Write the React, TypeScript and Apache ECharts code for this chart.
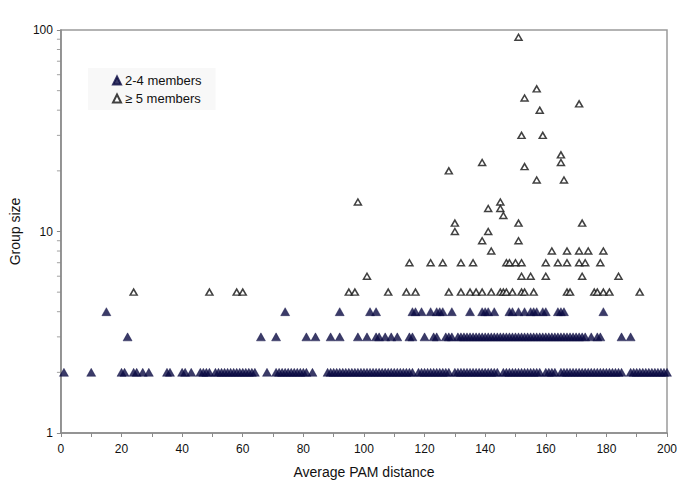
import React, { useEffect, useRef } from "react";
import * as echarts from "echarts";

// Filled triangles (2-4 members): x positions per group size row
const smallRow2: number[] = [
  1, 10, 20, 21, 24, 25, 27, 29, 35, 36, 40, 41, 43, 46, 47, 48, 49, 51, 52, 53, 54, 55, 56, 57, 58, 59, 60, 61, 62, 63, 64,
  68, 71, 72, 73, 74, 75, 76, 77, 78, 79, 80, 81, 83,
  88, 89, 90, 91, 92, 93, 94, 95, 96, 97, 98, 99, 100, 101, 102, 103, 104, 105, 106, 107, 108, 109, 110, 111, 112, 113, 114, 115, 116,
  118, 119, 120, 121, 122, 123, 124, 125, 126, 127, 128,
  130, 131, 132, 133, 134, 135, 136, 137, 138, 139, 140, 141, 142, 143, 144,
  146, 147, 148, 149, 150, 151, 152, 153, 154, 155, 156, 157, 158,
  160, 161, 162, 163, 165, 166, 167, 168, 169, 170, 171, 172, 173, 174, 175, 176, 177, 178, 179, 180, 181, 182, 183, 184, 185,
  188, 189, 190, 191, 192, 193, 194, 195, 196, 197, 198, 199, 200,
];
const smallRow3: number[] = [
  22, 66, 71, 81, 84, 89, 92, 98, 101, 104, 105, 107, 109, 111, 115, 116, 120, 123, 124, 127, 128, 129,
  131, 132, 133, 134, 135, 136, 137, 138, 139, 140, 141, 142, 143, 144, 145, 146, 147, 148, 149, 150,
  151, 152, 153, 154, 155, 156, 157, 158, 159, 160, 161, 162, 163, 164, 165, 166, 167, 168, 169, 170,
  171, 172, 173, 175, 177, 178, 185, 188,
];
const smallRow4: number[] = [
  15, 74, 92, 102, 104, 116, 117, 119, 122, 124, 125, 126, 129, 135, 139, 140, 141, 143,
  148, 149, 151, 153, 155, 156, 157, 159, 160, 164, 165, 166, 179,
];

// Hollow triangles (>= 5 members): [PAM distance, group size]
const largeX: number[] = [
  24, 49, 58, 60, 95, 97, 98, 101, 108, 114, 115, 117, 122, 126, 128, 128, 130, 130, 132, 132, 135, 136, 137,
  139, 139, 139, 141, 141, 142, 142, 145, 145, 145, 146, 146, 147, 147, 148, 149, 150, 151, 151, 151,
  152, 152, 152, 152, 153, 153, 153, 155, 156, 157, 157, 158, 159, 160, 160, 162, 164, 165, 165, 166,
  167, 167, 167, 168, 171, 171, 171, 172, 172, 173, 174, 176, 177, 178, 179, 179, 181, 184, 191,
];
const largeY: number[] = [
  5, 5, 5, 5, 5, 5, 14, 6, 5, 5, 7, 5, 7, 7, 5, 20, 11, 10, 5, 7, 5, 7, 5,
  5, 22, 9, 13, 10, 5, 8, 5, 14, 13, 5, 12, 5, 7, 7, 5, 7, 92, 11, 9,
  5, 30, 7, 6, 5, 46, 21, 6, 5, 51, 18, 40, 30, 7, 6, 8, 7, 24, 22, 18,
  5, 8, 7, 5, 43, 8, 7, 11, 6, 7, 8, 5, 5, 7, 8, 5, 5, 6, 5,
];

// Axis ticks
const yMinorTicks: number[] = [2, 3, 4, 5, 6, 7, 8, 9, 20, 30, 40, 50, 60, 70, 80, 90];

export default function App() {
  const ref = useRef<HTMLDivElement>(null);
  useEffect(() => {
    if (!ref.current) return;
    const chart = echarts.init(ref.current, undefined, { renderer: "svg" });
    const small: number[][] = [
      ...smallRow2.map((x) => [x, 2]),
      ...smallRow3.map((x) => [x, 3]),
      ...smallRow4.map((x) => [x, 4]),
    ];
    const large: number[][] = largeX.map((x, i) => [x, largeY[i]]);
    const font = "Arial, 'Liberation Sans', sans-serif";
    chart.setOption({
      animation: false,
      backgroundColor: "#ffffff",
      textStyle: { fontFamily: font },
      grid: {
        left: 58,
        right: 18,
        top: 30,
        bottom: 54,
        show: true,
        borderColor: "#9a9a9a",
        borderWidth: 1.5,
      },
      legend: {
        left: 88,
        top: 68,
        orient: "vertical",
        backgroundColor: "#f8f8f8",
        padding: [6, 14, 5, 24],
        itemGap: 5,
        itemWidth: 8,
        itemHeight: 8,
        textStyle: { fontFamily: font, fontSize: 13, color: "#111", padding: [0, 0, 0, -1] },
        data: [
          { name: "2-4 members", icon: "triangle" },
          { name: "≥ 5 members", icon: "triangle" },
        ],
      },
      xAxis: {
        type: "value",
        min: 0,
        max: 200,
        interval: 20,
        name: "Average PAM distance",
        nameLocation: "middle",
        nameGap: 32,
        nameTextStyle: { fontFamily: font, fontSize: 14, color: "#111" },
        axisLine: { show: true, lineStyle: { color: "#8a8a8a", width: 1.5 } },
        axisTick: { show: true, length: 4, lineStyle: { color: "#8a8a8a" } },
        minorTick: { show: true, splitNumber: 2, length: 4, lineStyle: { color: "#8a8a8a" } },
        axisLabel: { fontFamily: font, fontSize: 12, color: "#111", margin: 10 },
        splitLine: { show: false },
      },
      yAxis: {
        type: "log",
        logBase: 10,
        min: 1,
        max: 100,
        name: "Group size",
        nameLocation: "middle",
        nameGap: 38,
        nameTextStyle: { fontFamily: font, fontSize: 14, color: "#111" },
        axisLine: { show: true, lineStyle: { color: "#8a8a8a", width: 1.5 } },
        axisTick: { show: true, length: 4, lineStyle: { color: "#8a8a8a" } },
        axisLabel: { fontFamily: font, fontSize: 12, color: "#111", margin: 8 },
        splitLine: { show: false },
      },
      series: [
        {
          name: "2-4 members",
          type: "scatter",
          symbol: "triangle",
          symbolSize: [9, 8],
          itemStyle: { color: "#0a0a42", borderColor: "#0a0a42", borderWidth: 0.5 },
          data: small,
          z: 3,
        },
        {
          name: "≥ 5 members",
          type: "scatter",
          symbol: "triangle",
          symbolSize: [7, 6],
          itemStyle: { color: "#ffffff", borderColor: "#111111", borderWidth: 1.5 },
          data: large,
          z: 4,
        },
        {
          name: "minorTicks",
          type: "scatter",
          symbol: "rect",
          symbolSize: [4, 1],
          symbolOffset: [-2, 0],
          clip: false,
          silent: true,
          itemStyle: { color: "#8a8a8a" },
          data: yMinorTicks.map((v) => [0, v]),
          z: 1,
        },
      ],
    });
    return () => chart.dispose();
  }, []);
  return <div ref={ref} style={{ width: 685, height: 487, position: "absolute", left: 0, top: 0 }} />;
}
